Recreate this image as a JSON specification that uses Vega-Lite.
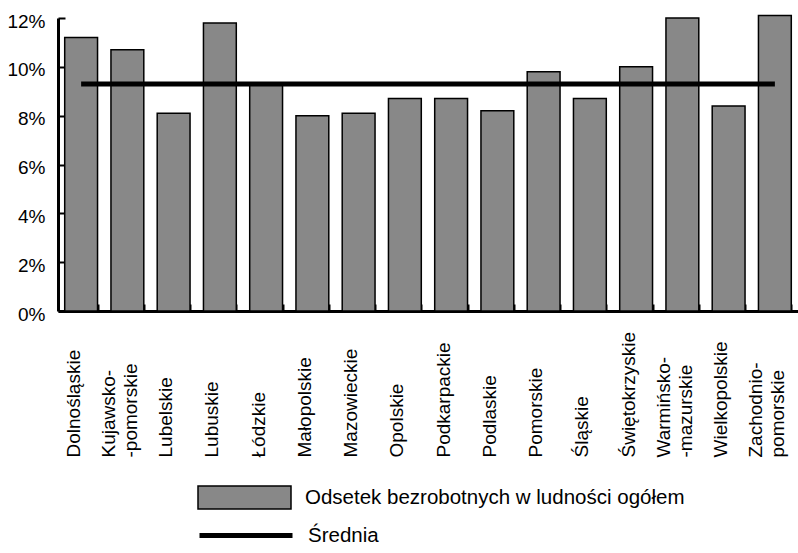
{
  "$schema": "https://vega.github.io/schema/vega-lite/v6.json",
  "width": 740,
  "height": 293,
  "autosize": {"type": "none"},
  "padding": {"left": 58, "top": 18, "right": 0, "bottom": 242},
  "config": {
    "font": "Liberation Sans",
    "view": {"stroke": null},
    "axis": {"grid": false, "domainColor": "black", "tickColor": "black", "labelColor": "black", "titleColor": "black"}
  },
  "data": {
    "values": [
      {"region": "Dolnośląskie", "value": 11.2},
      {"region": "Kujawsko-\n-pomorskie", "value": 10.7},
      {"region": "Lubelskie", "value": 8.1},
      {"region": "Lubuskie", "value": 11.8},
      {"region": "Łódzkie", "value": 9.3},
      {"region": "Małopolskie", "value": 8.0},
      {"region": "Mazowieckie", "value": 8.1},
      {"region": "Opolskie", "value": 8.7},
      {"region": "Podkarpackie", "value": 8.7},
      {"region": "Podlaskie", "value": 8.2},
      {"region": "Pomorskie", "value": 9.8},
      {"region": "Śląskie", "value": 8.7},
      {"region": "Świętokrzyskie", "value": 10.0},
      {"region": "Warmińsko-\n-mazurskie", "value": 12.0},
      {"region": "Wielkopolskie", "value": 8.4},
      {"region": "Zachodnio-\npomorskie", "value": 12.1}
    ]
  },
  "encoding": {
    "x": {
      "field": "region",
      "type": "nominal",
      "sort": null,
      "title": null,
      "scale": {"paddingInner": 0.29, "paddingOuter": 0.145},
      "axis": {
        "labelAngle": -90,
        "labelAlign": "left",
        "labelBaseline": "middle",
        "labelFontSize": 19,
        "labelLineHeight": -11,
        "labelPadding": 153,
        "labelOffset": 3,
        "labelExpr": "indexof(datum.label, '\\n') >= 0 ? [split(datum.label, '\\n')[1], '\u200b', split(datum.label, '\\n')[0]] : ['\u200b', datum.label]",
        "labelLimit": 0,
        "tickBand": "extent",
        "tickSize": -7,
        "tickWidth": 2,
        "domainWidth": 3
      }
    }
  },
  "layer": [
    {
      "mark": {"type": "bar", "stroke": "black", "strokeWidth": 1.5},
      "encoding": {
        "y": {
          "field": "value",
          "type": "quantitative",
          "title": null,
          "scale": {"domain": [0, 12], "nice": false},
          "axis": {
            "values": [0, 2, 4, 6, 8, 10, 12],
            "labelExpr": "datum.value + '%'",
            "labelFontSize": 19,
            "labelPadding": 20,
            "labelOffset": 3,
            "tickSize": -7,
            "tickWidth": 2,
            "domainWidth": 3
          }
        },
        "fill": {
          "datum": "Odsetek bezrobotnych w ludności ogółem",
          "scale": {"range": ["#888888"]},
          "legend": {
            "title": null,
            "orient": "none",
            "legendX": 139,
            "legendY": 432,
            "padding": 0,
            "symbolType": "M-1,-0.247H1V0.247H-1Z",
            "symbolSize": 8649,
            "symbolStrokeColor": "black",
            "symbolStrokeWidth": 1.5,
            "symbolOpacity": 1,
            "labelFontSize": 20.5,
            "labelColor": "black",
            "labelOffset": 13,
            "labelLimit": 600
          }
        }
      }
    },
    {
      "mark": {"type": "line", "strokeWidth": 5},
      "encoding": {
        "y": {"datum": 9.3, "type": "quantitative"},
        "stroke": {
          "datum": "Średnia",
          "scale": {"range": ["black"]},
          "legend": {
            "title": null,
            "orient": "none",
            "legendX": 139,
            "legendY": 468.5,
            "padding": 0,
            "symbolType": "stroke",
            "symbolSize": 8649,
            "symbolStrokeWidth": 5,
            "symbolStrokeColor": "black",
            "labelFontSize": 20.5,
            "labelColor": "black",
            "labelOffset": 13,
            "labelLimit": 600
          }
        }
      }
    }
  ]
}
